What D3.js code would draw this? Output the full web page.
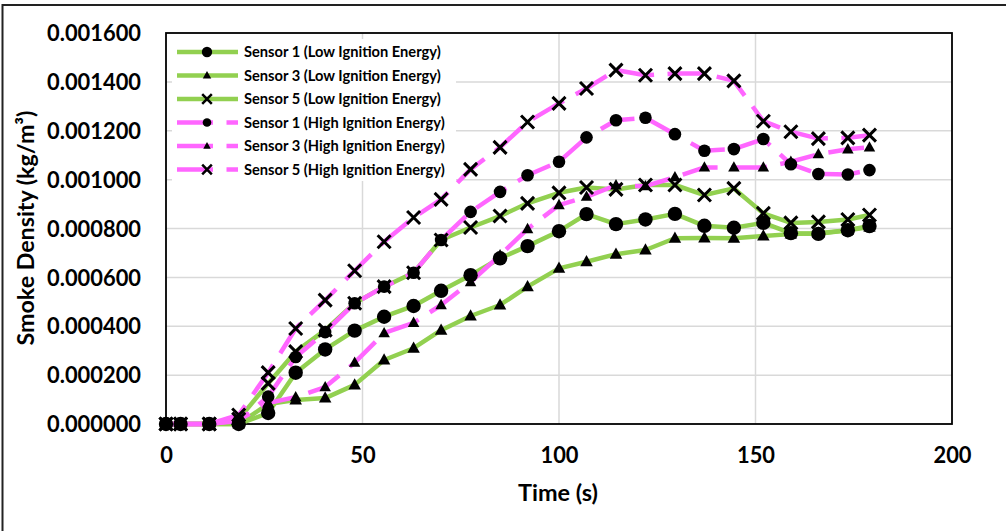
<!DOCTYPE html>
<html>
<head>
<meta charset="utf-8">
<script src="https://cdn.jsdelivr.net/npm/d3@7"></script>
<style>
  body { margin: 0; background: #fff; }
  svg { display: block; }
  text { font-family: Lato, "Open Sans", "DejaVu Sans", sans-serif; font-weight: 700; fill: #000; }
</style>
</head>
<body>
<svg id="chart" width="1006" height="531"></svg>
<script>
// Sample times (s)
const time = [0, 3.7, 11, 18.5, 26, 33, 40.5, 48, 55.5, 63, 70, 77.5, 85, 92, 100, 107, 114.5, 122, 129.5, 137, 144.5, 152, 159, 166, 173.5, 179];

// Smoke density (kg/m³), low ignition energy
const lowS1 = [0, 0, 0, 0, 0.000045, 0.000210, 0.000305, 0.000382, 0.000439, 0.000483, 0.000545, 0.000609, 0.000678, 0.000728, 0.000789, 0.000859, 0.000818, 0.000837, 0.000860, 0.000811, 0.000803, 0.000823, 0.000781, 0.000778, 0.000793, 0.000810];
const lowS3 = [0, 0, 0, 0, 0.000082, 0.000098, 0.000106, 0.000160, 0.000262, 0.000310, 0.000384, 0.000442, 0.000487, 0.000562, 0.000637, 0.000664, 0.000695, 0.000712, 0.000760, 0.000761, 0.000760, 0.000769, 0.000777, 0.000781, 0.000793, 0.000806];
const lowS5 = [0, 0, 0, 0.000020, 0.000166, 0.000296, 0.000384, 0.000494, 0.000562, 0.000619, 0.000753, 0.000804, 0.000851, 0.000903, 0.000946, 0.000968, 0.000960, 0.000978, 0.000978, 0.000937, 0.000964, 0.000862, 0.000823, 0.000827, 0.000837, 0.000855];

// Smoke density (kg/m³), high ignition energy
const highS1 = [0, 0, 0, 0.000012, 0.000112, 0.000274, 0.000376, 0.000494, 0.000562, 0.000619, 0.000753, 0.000868, 0.000950, 0.001018, 0.001073, 0.001173, 0.001243, 0.001253, 0.001186, 0.001118, 0.001125, 0.001166, 0.001063, 0.001023, 0.001021, 0.001039];
const highS3 = [0, 0, 0, 0.000016, 0.000086, 0.000110, 0.000151, 0.000251, 0.000372, 0.000414, 0.000487, 0.000581, 0.000691, 0.000798, 0.000896, 0.000930, 0.000977, 0.000973, 0.001010, 0.001050, 0.001050, 0.001050, 0.001073, 0.001104, 0.001124, 0.001132];
const highS5 = [0, 0, 0, 0.000037, 0.000210, 0.000391, 0.000507, 0.000627, 0.000746, 0.000845, 0.000919, 0.001042, 0.001132, 0.001236, 0.001312, 0.001373, 0.001448, 0.001427, 0.001434, 0.001434, 0.001404, 0.001239, 0.001196, 0.001168, 0.001171, 0.001182];

const seriesNames = [
  "Sensor 1 (Low Ignition Energy)",
  "Sensor 3 (Low Ignition Energy)",
  "Sensor 5 (Low Ignition Energy)",
  "Sensor 1 (High Ignition Energy)",
  "Sensor 3 (High Ignition Energy)",
  "Sensor 5 (High Ignition Energy)"
];
const seriesValues = [lowS1, lowS3, lowS5, highS1, highS3, highS5];

const xTicks = [0, 50, 100, 150, 200];
const yTicks = [0, 0.0002, 0.0004, 0.0006, 0.0008, 0.0010, 0.0012, 0.0014, 0.0016];
const xTitle = "Time (s)";
const yTitle = "Smoke Density (kg/m³)";

// Styling per series
const GREEN = "#92D050", PINK = "#FF66FF";
const styles = [
  { color: GREEN, dash: null, marker: "circle", size: 7.2, legSize: 5.2 },
  { color: GREEN, dash: null, marker: "triangle", size: 12.5, legSize: 8.5 },
  { color: GREEN, dash: null, marker: "x", size: 6.5, legSize: 4.8 },
  { color: PINK, dash: "36,13.5", marker: "circle", size: 6.3, legSize: 4.3 },
  { color: PINK, dash: "36,13.5", marker: "triangle", size: 11.5, legSize: 7.5 },
  { color: PINK, dash: "36,13.5", marker: "x", size: 6.5, legSize: 4.8 }
];

const svg = d3.select("#chart");
const W = 1006, H = 531;
const plot = { left: 166, right: 952, top: 33, bottom: 424 };

const x = d3.scaleLinear().domain([0, 200]).range([plot.left, plot.right]);
const y = d3.scaleLinear().domain([0, 0.0016]).range([plot.bottom, plot.top]);

svg.append("rect").attr("width", W).attr("height", H).attr("fill", "#fff");

// Outer frame edges
svg.append("line").attr("x1", 2.5).attr("x2", 2.5).attr("y1", 4).attr("y2", H)
  .attr("stroke", "#222").attr("stroke-width", 2);
svg.append("line").attr("x1", 2).attr("x2", W).attr("y1", 5).attr("y2", 5)
  .attr("stroke", "#222").attr("stroke-width", 2);

// Fit a text's font size so its rendered width matches a target
function fitFont(sel, sample, target, base) {
  const t = svg.append("text").attr("font-size", base).text(sample);
  const w = t.node().getComputedTextLength();
  t.remove();
  return base * target / w;
}

// Gridlines
const grid = svg.append("g");
grid.selectAll("line.h").data(yTicks.filter(d => d > 0 && d < 0.0016)).join("line")
  .attr("x1", plot.left).attr("x2", plot.right)
  .attr("y1", d => y(d)).attr("y2", d => y(d))
  .attr("stroke", "#D9D9D9").attr("stroke-width", 1.5);
grid.selectAll("line.v").data(xTicks.filter(d => d > 0 && d < 200)).join("line")
  .attr("x1", d => x(d)).attr("x2", d => x(d))
  .attr("y1", plot.top).attr("y2", plot.bottom)
  .attr("stroke", "#D9D9D9").attr("stroke-width", 1.5);

// Axes (labels only, frame drawn separately)
const tickFs = fitFont(svg, "0.001600", 94, 20);
const yAxis = svg.append("g").attr("transform", `translate(${plot.left},0)`)
  .call(d3.axisLeft(y).tickValues(yTicks).tickFormat(d3.format(".6f")).tickSize(0).tickPadding(25));
yAxis.select(".domain").remove();
yAxis.selectAll("text").attr("font-size", tickFs).attr("font-family", null).attr("dy", "0.35em");

const xAxis = svg.append("g").attr("transform", `translate(0,${plot.bottom})`)
  .call(d3.axisBottom(x).tickValues(xTicks).tickFormat(d3.format("d")).tickSize(0));
xAxis.select(".domain").remove();
xAxis.selectAll("text").attr("font-size", tickFs).attr("font-family", null).attr("y", 39).attr("dy", null);

// Plot frame
svg.append("rect").attr("x", plot.left).attr("y", plot.top)
  .attr("width", plot.right - plot.left).attr("height", plot.bottom - plot.top)
  .attr("fill", "none").attr("stroke", "#000").attr("stroke-width", 1.8);

// Axis titles
const xtFs = fitFont(svg, xTitle, 80, 20);
svg.append("text").attr("x", 558).attr("y", 501).attr("text-anchor", "middle")
  .attr("font-size", xtFs).text(xTitle);
const ytFs = fitFont(svg, yTitle, 235, 18);
svg.append("text").attr("transform", "translate(34,228) rotate(-90)").attr("text-anchor", "middle")
  .attr("font-size", ytFs).text(yTitle);

// Marker drawing
function drawMarker(g, type, cx, cy, s) {
  if (type === "circle") {
    g.append("circle").attr("cx", cx).attr("cy", cy).attr("r", s).attr("fill", "#000");
  } else if (type === "triangle") {
    const h = s * 0.9;
    g.append("path").attr("d", `M${cx},${cy - h * 0.6}L${cx + s / 2},${cy + h * 0.4}L${cx - s / 2},${cy + h * 0.4}Z`)
      .attr("fill", "#000");
  } else {
    g.append("path").attr("d", `M${cx - s},${cy - s}L${cx + s},${cy + s}M${cx - s},${cy + s}L${cx + s},${cy - s}`)
      .attr("stroke", "#000").attr("stroke-width", s > 5.5 ? 3 : 2.5).attr("fill", "none");
  }
}

// Lines
const line = d3.line().x(d => x(d[0])).y(d => y(d[1]));
const linesG = svg.append("g");
seriesValues.forEach((vals, i) => {
  const pts = time.map((t, k) => [t, vals[k]]);
  linesG.append("path").datum(pts).attr("d", line)
    .attr("fill", "none").attr("stroke", styles[i].color).attr("stroke-width", 4.5)
    .attr("stroke-linejoin", "round")
    .attr("stroke-dasharray", styles[i].dash);
});

// Markers
const markG = svg.append("g");
seriesValues.forEach((vals, i) => {
  time.forEach((t, k) => drawMarker(markG, styles[i].marker, x(t), y(vals[k]), styles[i].size));
});

// Legend
const leg = svg.append("g");
leg.append("rect").attr("x", 172).attr("y", 39).attr("width", 284).attr("height", 142).attr("fill", "#fff");
const legFs = fitFont(svg, seriesNames[3], 201, 13);
seriesNames.forEach((name, i) => {
  const ry = 52 + i * 23.5;
  leg.append("line").attr("x1", 177).attr("x2", 238).attr("y1", ry).attr("y2", ry)
    .attr("stroke", styles[i].color).attr("stroke-width", 4.5)
    .attr("stroke-dasharray", styles[i].dash);
  drawMarker(leg, styles[i].marker, 207, ry, styles[i].legSize);
  leg.append("text").attr("x", 244).attr("y", ry).attr("dy", "0.36em")
    .attr("font-size", legFs).text(name);
});
</script>
</body>
</html>
